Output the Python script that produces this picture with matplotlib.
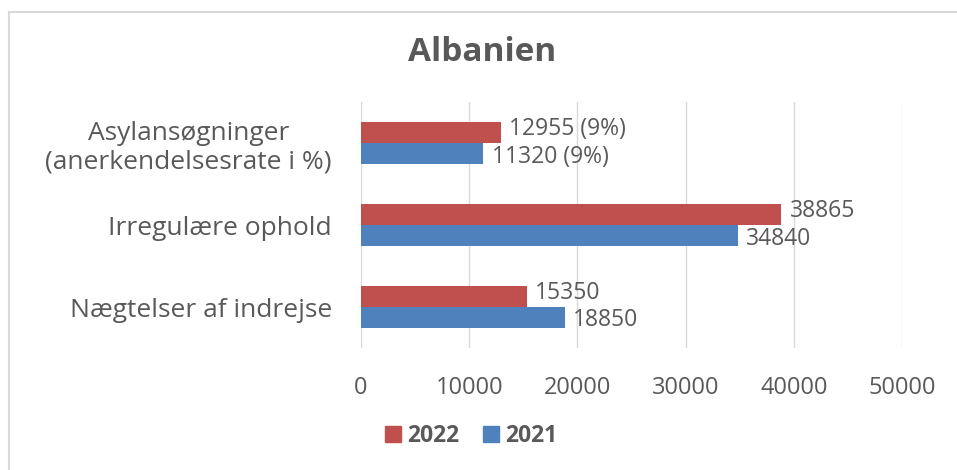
import matplotlib.pyplot as plt
from matplotlib.lines import Line2D

# Data (bottom to top in the plot)
categories = ['Nægtelser af indrejse', 'Irregulære ophold', 'Asylansøgninger\n(anerkendelsesrate i %)']
values_2022 = [15350, 38865, 12955]
values_2021 = [18850, 34840, 11320]
labels_2022 = ['15350', '38865', '12955 (9%)']
labels_2021 = ['18850', '34840', '11320 (9%)']
xticks = [0, 10000, 20000, 30000, 40000, 50000]

red = '#C0504D'
blue = '#4F81BD'
txt = '#595959'

plt.rcParams['font.family'] = ['Open Sans', 'DejaVu Sans']

fig = plt.figure(figsize=(9.57, 4.7), dpi=100)
ax = fig.add_axes([0.3772, 0.2596, 0.5653, 0.523])

y = range(len(categories))
h = 0.26
y22 = [i + h / 2 for i in y]
y21 = [i - h / 2 for i in y]
ax.barh(y22, values_2022, height=h, color=red, zorder=3)
ax.barh(y21, values_2021, height=h, color=blue, zorder=3)

# data labels, nudged slightly apart like in the reference
for yy, v, lab in zip(y22, values_2022, labels_2022):
    ax.annotate(lab, (v, yy), xytext=(6, 2.5), textcoords='offset points',
                ha='left', va='center', fontsize=16.5, color=txt)
for yy, v, lab in zip(y21, values_2021, labels_2021):
    ax.annotate(lab, (v, yy), xytext=(6, -2), textcoords='offset points',
                ha='left', va='center', fontsize=16.5, color=txt)

ax.set_xlim(0, 50000)
ax.set_ylim(-0.5, 2.5)
ax.set_xticks(xticks)
ax.set_xticklabels([str(t) for t in xticks], fontsize=17, color=txt)
ax.set_yticks(list(y))
ax.set_yticklabels(categories, fontsize=19, color=txt, multialignment='center')
ax.tick_params(length=0)
ax.tick_params(axis='x', pad=20)
ax.tick_params(axis='y', pad=21)
ax.grid(axis='x', color='#D9D9D9', linewidth=1, zorder=0)
for s in ax.spines.values():
    s.set_visible(False)

fig.text(0.504, 0.889, 'Albanien', ha='center', va='center', fontsize=24,
         fontweight='bold', color=txt)

handles = [Line2D([], [], marker='s', linestyle='', markersize=11, color=red),
           Line2D([], [], marker='s', linestyle='', markersize=11, color=blue)]
fig.legend(handles, ['2022', '2021'], loc='center', bbox_to_anchor=(0.492, 0.072),
           ncol=2, frameon=False, handlelength=0.8, handletextpad=0.2, columnspacing=1.0,
           prop={'weight': 'bold', 'size': 16.5}, labelcolor=txt)

# light outer frame (left and top edges visible in the reference)
fig.add_artist(Line2D([9 / 957, 9 / 957], [0, 1 - 12 / 470], transform=fig.transFigure,
                      color='#D9D9D9', linewidth=1.5))
fig.add_artist(Line2D([9 / 957, 1], [1 - 12 / 470, 1 - 12 / 470], transform=fig.transFigure,
                      color='#D9D9D9', linewidth=1.5))

fig.savefig('out.png', dpi=100)
